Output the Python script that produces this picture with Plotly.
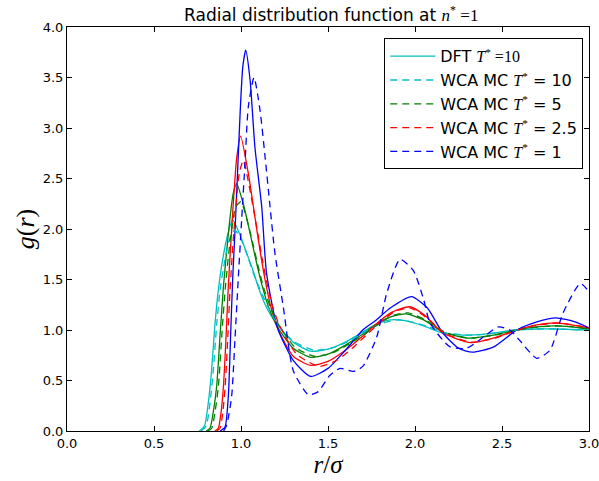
import plotly.graph_objects as go

# colours (matplotlib classic c, g, r, b)
CYAN = "#00bfbf"
GREEN = "#008000"
RED = "#ff0000"
BLUE = "#0000ff"

# ---- DFT curves (solid) ----
r_dft10 = [0.76, 0.79, 0.81, 0.83, 0.85, 0.87, 0.89, 0.92, 0.952, 0.99, 1.033, 1.071, 1.10, 1.15, 1.205, 1.30, 1.40, 1.50, 1.60, 1.70, 1.77, 1.86, 1.95, 2.05, 2.16, 2.28, 2.40, 2.58, 2.70, 2.81, 2.90, 3.0]
g_dft10 = [0.0, 0.05, 0.25, 0.58, 1.05, 1.40, 1.65, 1.92, 2.09, 1.96, 1.76, 1.58, 1.42, 1.21, 1.06, 0.88, 0.79, 0.81, 0.88, 0.98, 1.05, 1.10, 1.09, 1.04, 0.97, 0.95, 0.96, 1.00, 1.01, 1.01, 1.005, 1.0]

r_dft5 = [0.80, 0.822, 0.84, 0.86, 0.879, 0.899, 0.93, 0.955, 0.975, 1.013, 1.052, 1.09, 1.12, 1.16, 1.21, 1.30, 1.40, 1.50, 1.60, 1.70, 1.77, 1.86, 1.95, 2.05, 2.16, 2.30, 2.45, 2.58, 2.70, 2.81, 2.90, 3.0]
g_dft5 = [0.0, 0.03, 0.18, 0.44, 0.93, 1.43, 2.0, 2.35, 2.45, 2.25, 1.96, 1.66, 1.45, 1.22, 1.03, 0.82, 0.73, 0.76, 0.85, 0.96, 1.05, 1.13, 1.16, 1.10, 0.98, 0.92, 0.95, 1.0, 1.03, 1.04, 1.03, 1.01]

r_dft25 = [0.85, 0.87, 0.885, 0.899, 0.914, 0.927, 0.95, 0.975, 0.998, 1.042, 1.08, 1.109, 1.138, 1.17, 1.21, 1.30, 1.40, 1.50, 1.60, 1.70, 1.77, 1.86, 1.97, 2.06, 2.16, 2.32, 2.45, 2.585, 2.70, 2.81, 2.90, 3.0]
g_dft25 = [0.0, 0.03, 0.18, 0.44, 0.93, 1.43, 2.1, 2.7, 2.92, 2.55, 2.12, 1.79, 1.50, 1.24, 1.02, 0.74, 0.65, 0.69, 0.80, 0.94, 1.05, 1.17, 1.23, 1.14, 0.97, 0.875, 0.92, 1.0, 1.05, 1.07, 1.05, 1.02]

r_dft1 = [0.88, 0.908, 0.927, 0.94, 0.952, 0.966, 0.98, 0.995, 1.01, 1.027, 1.052, 1.08, 1.119, 1.147, 1.21, 1.30, 1.40, 1.50, 1.60, 1.70, 1.77, 1.86, 1.98, 2.07, 2.16, 2.25, 2.33, 2.45, 2.585, 2.70, 2.81, 2.92, 3.0]
g_dft1 = [0.0, 0.04, 0.34, 0.93, 1.5, 2.0, 2.55, 3.15, 3.6, 3.77, 3.48, 2.81, 2.22, 1.56, 1.02, 0.70, 0.54, 0.62, 0.80, 1.0, 1.09, 1.22, 1.33, 1.22, 0.97, 0.82, 0.78, 0.83, 1.0, 1.08, 1.12, 1.08, 1.02]

# ---- WCA MC curves (dashed) ----
r_mc10 = [0.77, 0.80, 0.82, 0.84, 0.86, 0.88, 0.90, 0.93, 0.963, 1.0, 1.04, 1.08, 1.12, 1.16, 1.21, 1.30, 1.42, 1.52, 1.62, 1.72, 1.80, 1.90, 1.98, 2.08, 2.18, 2.30, 2.42, 2.58, 2.70, 2.81, 2.90, 3.0]
g_mc10 = [0.0, 0.05, 0.25, 0.58, 1.05, 1.40, 1.62, 1.88, 1.99, 1.90, 1.72, 1.52, 1.36, 1.21, 1.06, 0.89, 0.80, 0.82, 0.89, 0.99, 1.06, 1.10, 1.08, 1.03, 0.97, 0.95, 0.96, 1.0, 1.01, 1.01, 1.005, 1.0]

r_mc5 = [0.81, 0.832, 0.85, 0.87, 0.889, 0.909, 0.94, 0.97, 1.0, 1.03, 1.065, 1.10, 1.13, 1.17, 1.22, 1.31, 1.42, 1.52, 1.62, 1.72, 1.79, 1.87, 1.96, 2.06, 2.17, 2.31, 2.46, 2.59, 2.71, 2.82, 2.91, 3.0]
g_mc5 = [0.0, 0.03, 0.18, 0.44, 0.93, 1.40, 1.92, 2.22, 2.27, 2.12, 1.88, 1.62, 1.42, 1.22, 1.04, 0.83, 0.74, 0.77, 0.86, 0.97, 1.06, 1.14, 1.17, 1.10, 0.98, 0.92, 0.95, 1.0, 1.03, 1.04, 1.03, 1.01]

r_mc25 = [0.86, 0.88, 0.895, 0.909, 0.924, 0.937, 0.96, 0.99, 1.013, 1.05, 1.09, 1.12, 1.15, 1.18, 1.22, 1.32, 1.45, 1.55, 1.64, 1.72, 1.79, 1.88, 1.97, 2.06, 2.17, 2.32, 2.46, 2.59, 2.71, 2.82, 2.91, 3.0]
g_mc25 = [0.0, 0.03, 0.18, 0.44, 0.93, 1.40, 2.0, 2.55, 2.68, 2.40, 2.02, 1.72, 1.46, 1.24, 1.05, 0.76, 0.64, 0.70, 0.82, 0.95, 1.06, 1.18, 1.22, 1.13, 0.97, 0.88, 0.92, 1.0, 1.05, 1.07, 1.05, 1.02]

r_mc1 = [0.90, 0.918, 0.946, 0.966, 0.985, 1.004, 1.023, 1.042, 1.075, 1.109, 1.138, 1.167, 1.195, 1.243, 1.30, 1.387, 1.444, 1.51, 1.57, 1.645, 1.70, 1.78, 1.837, 1.914, 1.99, 2.05, 2.086, 2.20, 2.297, 2.393, 2.479, 2.546, 2.60, 2.70, 2.776, 2.85, 2.95, 3.0]
g_mc1 = [0.0, 0.06, 0.34, 0.93, 1.53, 2.10, 2.65, 3.21, 3.50, 3.18, 2.72, 2.22, 1.76, 1.23, 0.60, 0.36, 0.39, 0.55, 0.62, 0.59, 0.64, 0.93, 1.36, 1.70, 1.59, 1.30, 1.07, 0.835, 0.82, 0.93, 1.03, 1.0, 0.90, 0.72, 0.80, 1.165, 1.46, 1.38]

MATH = "Liberation Serif"


def m(s):
    return '<span style="font-family:%s">%s</span>' % (MATH, s)


Tstar = m("<i>T</i><sup>*</sup>")

fig = go.Figure()

DASH = "7px,5px"
LW = 1.3


def curve(x, y, color, dash="solid", name=None):
    return go.Scatter(x=x, y=y, mode="lines", name=name, showlegend=name is not None,
                      line=dict(color=color, width=LW, dash=dash, shape="spline", smoothing=0.6))


fig.add_trace(curve(r_dft10, g_dft10, CYAN, name="DFT " + Tstar + m(" =10")))
fig.add_trace(curve(r_dft5, g_dft5, GREEN))
fig.add_trace(curve(r_dft25, g_dft25, RED))
fig.add_trace(curve(r_dft1, g_dft1, BLUE))
fig.add_trace(curve(r_mc10, g_mc10, CYAN, DASH, "WCA MC " + Tstar + " = 10"))
fig.add_trace(curve(r_mc5, g_mc5, GREEN, DASH, "WCA MC " + Tstar + " = 5"))
fig.add_trace(curve(r_mc25, g_mc25, RED, DASH, "WCA MC " + Tstar + " = 2.5"))
fig.add_trace(curve(r_mc1, g_mc1, BLUE, DASH, "WCA MC " + Tstar + " = 1"))

axis_common = dict(showline=True, linecolor="black", linewidth=1, mirror="allticks", ticks="inside", ticklen=5,
                   tickcolor="black", showgrid=False, zeroline=False, automargin=False, layer="above traces",
                   ticklabeloverflow="allow", tickfont=dict(family="DejaVu Sans", size=13, color="black"))

fig.update_layout(
    width=599, height=481,
    margin=dict(l=67, r=10, t=27, b=50),
    paper_bgcolor="white", plot_bgcolor="white",
    font=dict(family="DejaVu Sans", color="black"),
    title=dict(text="Radial distribution function at " + m("<i>n</i><sup>*</sup> =1"), x=0.553, xanchor="center",
               y=0.969, yanchor="middle", font=dict(size=17)),
    xaxis=dict(range=[0, 3], tickvals=[0, 0.5, 1, 1.5, 2, 2.5, 3], tickformat=".1f",
               title=dict(text="<i>r</i>/<i>σ</i>", font=dict(family=MATH, size=25), standoff=0), **axis_common),
    yaxis=dict(range=[0, 4], tickvals=[0, 0.5, 1, 1.5, 2, 2.5, 3, 3.5, 4], tickformat=".1f",
               title=dict(text="<i>g</i>(<i>r</i>)", font=dict(family=MATH, size=26), standoff=0), **axis_common),
    legend=dict(x=0.989, y=0.972, xanchor="right", yanchor="top", bordercolor="black", borderwidth=1,
                bgcolor="white", font=dict(size=16), itemwidth=45, tracegroupgap=0),
)

# drop the browser's default 8px body margin so the figure sits at the page corner
fig.write_html("out.html", config={"displayModeBar": False},
               post_script="document.body.style.margin='0';")
